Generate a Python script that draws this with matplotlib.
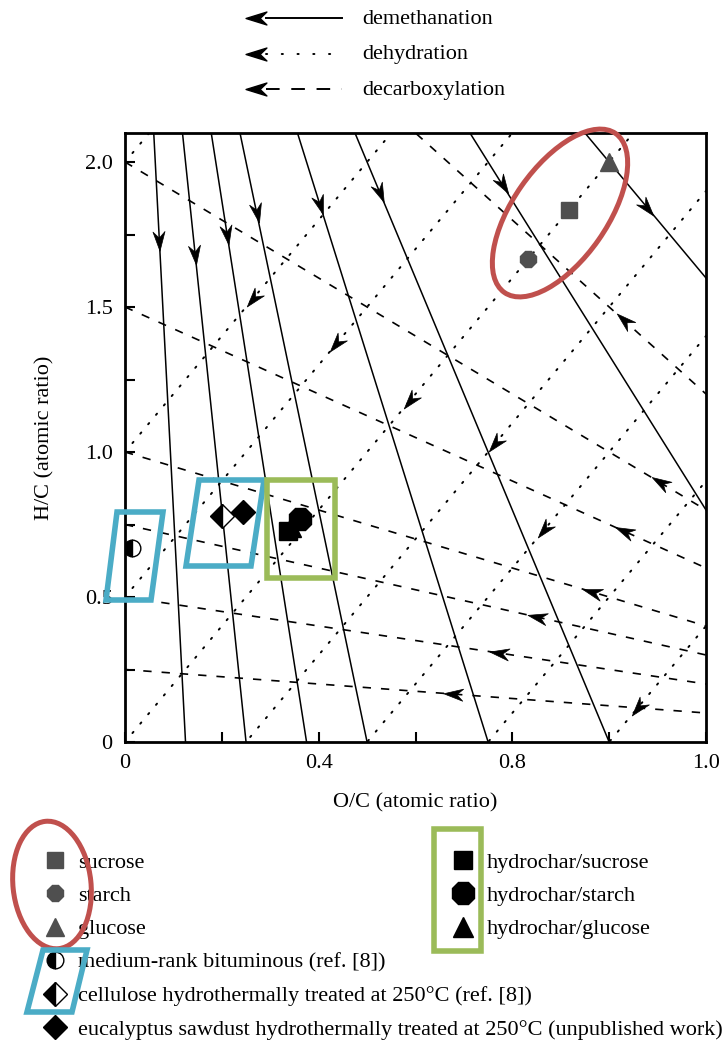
import numpy as np
import matplotlib
matplotlib.use("Agg")
import matplotlib.pyplot as plt
from matplotlib.path import Path
from matplotlib.markers import MarkerStyle
from matplotlib.transforms import Affine2D
from matplotlib.patches import Ellipse, Polygon, Rectangle

plt.rcParams["font.family"] = ["Liberation Serif", "DejaVu Serif"]
FS = 16

# demethanation lines run through (0, 4); x0 = where they reach H/C = 0
demeth_x0 = [0.125, 0.25, 0.375, 0.5, 0.75, 1.0, 1.5, 2.0]
demeth_arrow_x = [0.071, 0.145, 0.211, 0.272, 0.403, 0.527, 0.78, 1.079]
# dehydration lines: H/C = 2 * O/C + c
dehyd_c = [2.0, 1.0, 0.5, 0.0, -0.5, -1.0, -1.5, -2.0]
dehyd_arrow_x = [None, 0.264, 0.436, 0.588, 0.764, 0.866, None, 1.059]
# decarboxylation lines run through (2, 0); y0 = H/C at O/C = 0
decarb_y0 = [0.25, 0.5, 0.75, 1.0, 1.5, 2.0, 3.0]
decarb_arrow_x = [0.677, 0.772, 0.85, 0.965, 1.031, 1.104, 1.031]

feed_names = ["sucrose", "starch", "glucose"]
feed_oc = [0.917, 0.833, 1.0]
feed_hc = [1.833, 1.667, 2.0]
feed_mk = ["s", "8", "^"]
feed_ms = [11, 13, 13]

ref_names = ["medium-rank bituminous (ref. [8])",
             "cellulose hydrothermally treated at 250°C (ref. [8])",
             "eucalyptus sawdust hydrothermally treated at 250°C (unpublished work)"]
ref_oc = [0.015, 0.200, 0.244]
ref_hc = [0.668, 0.780, 0.792]
ref_mk = ["o", "D", "D"]
ref_fill = ["left", "left", "full"]

char_names = ["hydrochar/sucrose", "hydrochar/starch", "hydrochar/glucose"]
char_oc = [0.336, 0.362, 0.343]
char_hc = [0.727, 0.768, 0.742]
char_mk = ["s", "8", "^"]
char_ms = [13, 17, 15]

W, H = 728, 1041
fig = plt.figure(figsize=(W / 100, H / 100), dpi=100)
ax = fig.add_axes([125 / W, 1 - 742 / H, 581 / W, 609 / H])
ax.set_xlim(0, 1.2)
ax.set_ylim(0, 2.1)

head = Path([(1, 0), (-1, 0.62), (-0.35, 0), (-1, -0.62), (1, 0)],
            [Path.MOVETO, Path.LINETO, Path.LINETO, Path.LINETO, Path.CLOSEPOLY])


def head_marker(angle):
    return MarkerStyle(head, transform=Affine2D().rotate_deg(angle))


def draw_head(x, y, dx, dy):
    p0 = ax.transData.transform((x, y))
    p1 = ax.transData.transform((x + dx * 1e-3, y + dy * 1e-3))
    ang = np.degrees(np.arctan2(p1[1] - p0[1], p1[0] - p0[0]))
    ax.plot(x, y, ls="none", marker=head_marker(ang), ms=14, color="black",
            mew=0.5, zorder=4)


dot_ls = (0, (0.8, 5.5))
dash_ls = (0, (5, 6))

for x0, xa in zip(demeth_x0, demeth_arrow_x):
    ax.plot([0, x0], [4, 0], color="black", lw=1.1)
    if xa is not None:
        draw_head(xa, 4 * (1 - xa / x0), x0, -4)

for c, xa in zip(dehyd_c, dehyd_arrow_x):
    ax.plot([-1, 2], [-2 + c, 4 + c], color="black", lw=1.4, ls=dot_ls,
            dash_capstyle="round")
    if xa is not None:
        draw_head(xa, 2 * xa + c, -1, -2)

for y0, xa in zip(decarb_y0, decarb_arrow_x):
    ax.plot([0, 2], [y0, 0], color="black", lw=1.2, ls=dash_ls)
    if xa is not None:
        draw_head(xa, y0 * (1 - xa / 2), -2, y0)

handles_left = []
for n, x, y, m, s in zip(feed_names, feed_oc, feed_hc, feed_mk, feed_ms):
    h, = ax.plot(x, y, ls="none", marker=m, ms=s, color="#4f4f4f",
                 mec="#4f4f4f", label=n, zorder=5)
    handles_left.append(h)
for n, x, y, m, f in zip(ref_names, ref_oc, ref_hc, ref_mk, ref_fill):
    h, = ax.plot(x, y, ls="none", marker=m, ms=12, fillstyle=f,
                 mfc="black", mfcalt="white", mec="black", mew=1.0,
                 label=n, zorder=5)
    handles_left.append(h)
handles_right = []
for n, x, y, m, s in zip(char_names, char_oc, char_hc, char_mk, char_ms):
    h, = ax.plot(x, y, ls="none", marker=m, ms=s, color="black", label=n,
                 zorder=5)
    handles_right.append(h)

for s in ax.spines.values():
    s.set_linewidth(2)
ax.set_xticks(np.arange(0, 1.21, 0.2))
ax.set_xticklabels(["0", "", "0.4", "", "0.8", "", "1.0"])
ax.set_yticks(np.arange(0, 2.01, 0.25))
ax.set_yticklabels(["0", "", "0.5", "", "1.0", "", "1.5", "", "2.0"])
ax.tick_params(direction="in", length=7, width=1.5, labelsize=FS, pad=9)
ax.set_xlabel("O/C (atomic ratio)", fontsize=FS, labelpad=14)
ax.set_ylabel("H/C (atomic ratio)", fontsize=FS, labelpad=22)

leg_kw = dict(loc="upper left", frameon=False, fontsize=FS, handlelength=1.0,
              handletextpad=0.55, labelspacing=0.58, borderpad=0,
              borderaxespad=0)
fig.legend(handles=handles_left, bbox_to_anchor=(44 / W, 1 - 852 / H), **leg_kw)
fig.legend(handles=handles_right, bbox_to_anchor=(452 / W, 1 - 852 / H), **leg_kw)

# overlay in pixel units for the line-type key and the highlight shapes
ov = fig.add_axes([0, 0, 1, 1], zorder=10)
ov.set_xlim(0, W)
ov.set_ylim(H, 0)
ov.axis("off")

key_labels = ["demethanation", "dehydration", "decarboxylation"]
key_styles = ["-", (0, (0.6, 7.5)), (0, (7, 6))]
for i, (lab, st) in enumerate(zip(key_labels, key_styles)):
    yk = 18 + 35.5 * i
    ov.plot([266, 342], [yk, yk], color="black", lw=1.4, ls=st,
            dash_capstyle="round" if i == 1 else "butt")
    ov.plot(256, yk, ls="none", marker=head_marker(180), ms=15, color="black")
    ov.text(362, yk + 1, lab, fontsize=FS, va="center", ha="left")

red, blue, green = "#c0504d", "#4bacc6", "#9bbb59"
ov.add_patch(Ellipse((560, 213), 194, 94, angle=-55, fill=False, ec=red, lw=3.6))
ov.add_patch(Ellipse((52, 885), 78, 128, angle=-6, fill=False, ec=red, lw=3.6))
ov.add_patch(Polygon([(117, 512), (163, 512), (151, 600), (106, 600)],
                     closed=True, fill=False, ec=blue, lw=4))
ov.add_patch(Polygon([(199, 480), (264, 480), (251, 566), (186, 566)],
                     closed=True, fill=False, ec=blue, lw=4))
ov.add_patch(Polygon([(43, 950), (87, 950), (72, 1012), (27, 1012)],
                     closed=True, fill=False, ec=blue, lw=4))
ov.add_patch(Rectangle((267, 480), 68, 98, fill=False, ec=green, lw=4))
ov.add_patch(Rectangle((434, 829), 47, 122, fill=False, ec=green, lw=4))

fig.savefig("out.png", dpi=100)
